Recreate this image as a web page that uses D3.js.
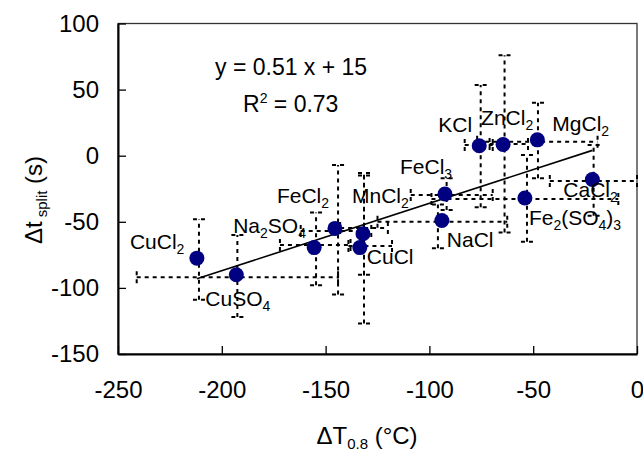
<!DOCTYPE html>
<html lang="en">
<head>
<meta charset="UTF-8">
<title>dt split vs dT0.8</title>
<script src="https://cdn.jsdelivr.net/npm/d3@7"></script>
<style>
    body { margin: 0; background: #fff; }
    text { font-family: "Liberation Sans", Arial, sans-serif; fill: #000; }
    .err { fill: none; stroke: #000; stroke-width: 2; stroke-dasharray: 4,4; }
</style>
</head>
<body>
<div id="chart"></div>
<script>
// data
const names = ['CuCl2', 'CuSO4', 'Na2SO4', 'FeCl2', 'MnCl2', 'CuCl', 'FeCl3', 'NaCl', 'KCl', 'ZnCl2', 'MgCl2', 'Fe2(SO4)3', 'CaCl2']
const dT = [-212, -193, -155.5, -145.5, -132, -133.5, -92.5, -94, -76, -64.5, -48, -54, -21.5]
const dt = [-77.5, -90, -69.5, -55, -59, -69.5, -29, -49, 7.5, 8.5, 12, -32, -18]

// error bars (vertical: at x, from lo to hi; horizontal: at y, from lo to hi; null = none shown)
const vBarX = [-211, -192.5, -154.6, -144, -131.5, -131.5, -91.7, -95.9, -75.3, -63.8, -47.7, -53, -20.9]
const vBarLo = [-109, -122, -98, -105, -90, -127, -41, -70, -39, -58, -17, -65, -45.5]
const vBarHi = [-48, -60, -43, -7, -13, -15, -17, -37, 53.5, 76, 40, 0.5, 8]
const hBarY = [null, -92, -67.5, -57, -54.7, -68.3, -29.7, -49.9, 8.1, 8.9, 10.6, -32.8, -19.1]
const hBarLo = [null, -241, -172, -162, -143, -139, -109, -125, -83, -71, -77, -99, -42]
const hBarHi = [null, -144, -138, -128, -120, -118, -69.5, -62.5, -69.5, -52.5, -19, -9, 0]

const xTicks = [-250, -200, -150, -100, -50, 0]
const yTicks = [-150, -100, -50, 0, 50, 100]
const fitSlope = 0.51, fitIntercept = 15

// label offsets from the point, pixels
const labelOffset = [[-67, -9], [-31, 31], [-81, -15], [-58, -25], [-11, -31], [7, 16], [-45, -20], [5, 27], [-41, -14], [-22, -19], [15, -9], [4, 27], [-29, 18]]

const width = 643, height = 454
const margin = { left: 118, top: 23.5, right: 6, bottom: 100 }

const svg = d3.select('#chart').append('svg').attr('width', width).attr('height', height)

const x = d3.scaleLinear().domain([-250, 0]).range([margin.left, width - margin.right])
const y = d3.scaleLinear().domain([-150, 100]).range([height - margin.bottom, margin.top])

// frame
svg.append('rect')
    .attr('x', x(-250)).attr('y', y(100))
    .attr('width', x(0) - x(-250)).attr('height', y(-150) - y(100))
    .attr('fill', 'none').attr('stroke', '#333').attr('stroke-width', 1.3)

const fmt = d => String(d)   // plain hyphen like the original
svg.append('g').attr('transform', `translate(0,${y(-150)})`)
    .call(d3.axisBottom(x).tickValues(xTicks).tickFormat(fmt).tickSizeInner(-8).tickSizeOuter(0).tickPadding(27))
svg.append('g').attr('transform', `translate(${x(-250)},0)`)
    .call(d3.axisLeft(y).tickValues(yTicks).tickFormat(fmt).tickSizeInner(-8).tickSizeOuter(0).tickPadding(19))
svg.selectAll('.tick text').attr('font-size', 24).attr('font-family', '"Liberation Sans", Arial, sans-serif')
svg.selectAll('.domain').attr('stroke', '#000').attr('stroke-width', 2)
svg.selectAll('.tick line').attr('stroke', '#000').attr('stroke-width', 1.3)

// error bars
const cap = 6
const eb = svg.append('g')
d3.range(names.length).forEach(i => {
    const vx = x(vBarX[i]), y1 = y(vBarLo[i]), y2 = y(vBarHi[i])
    eb.append('line').attr('class', 'err').attr('x1', vx).attr('x2', vx).attr('y1', y1).attr('y2', y2)
    eb.append('line').attr('class', 'err').attr('x1', vx - cap).attr('x2', vx + cap).attr('y1', y1).attr('y2', y1)
    eb.append('line').attr('class', 'err').attr('x1', vx - cap).attr('x2', vx + cap).attr('y1', y2).attr('y2', y2)

    if (hBarY[i] === null) return
    const hy = y(hBarY[i]), x1 = x(hBarLo[i]), x2 = x(hBarHi[i])
    eb.append('line').attr('class', 'err').attr('x1', x1).attr('x2', x2).attr('y1', hy).attr('y2', hy)
    eb.append('line').attr('class', 'err').attr('x1', x1).attr('x2', x1).attr('y1', hy - cap).attr('y2', hy + cap)
    eb.append('line').attr('class', 'err').attr('x1', x2).attr('x2', x2).attr('y1', hy - cap).attr('y2', hy + cap)
})

// fit line over the data range
const fitX = d3.extent(dT)
svg.append('path')
    .attr('d', d3.line().x(d => x(d)).y(d => y(fitSlope * d + fitIntercept))(fitX))
    .attr('stroke', '#000').attr('stroke-width', 1.6).attr('fill', 'none')

// points
svg.append('g').selectAll('circle').data(dT).join('circle')
    .attr('cx', d => x(d)).attr('cy', (d, i) => y(dt[i])).attr('r', 7.5)
    .attr('fill', '#000080')

// labels, digits as subscripts
function addChem(sel, str, big, small, shift) {
    const parts = str.match(/\d+|\D+/g)
    let down = false
    parts.forEach(p => {
        const sub = /\d/.test(p)
        const t = sel.append('tspan').text(p).attr('font-size', sub ? small : big)
        if (sub && !down) { t.attr('dy', shift); down = true }
        else if (!sub && down) { t.attr('dy', -shift); down = false }
    })
}
d3.range(names.length).forEach(i => {
    const t = svg.append('text')
        .attr('x', x(dT[i]) + labelOffset[i][0])
        .attr('y', y(dt[i]) + labelOffset[i][1])
    addChem(t, names[i], 21, 14, 5)
})

// regression text
svg.append('text').attr('x', 215).attr('y', 75).attr('font-size', 23).text('y = 0.51 x + 15')
const r2 = svg.append('text').attr('x', 243).attr('y', 112).attr('font-size', 23)
r2.append('tspan').text('R')
r2.append('tspan').text('2').attr('font-size', 14).attr('dy', -9)
r2.append('tspan').text(' = 0.73').attr('dy', 9)

// axis titles
const xt = svg.append('text').attr('x', 367).attr('y', 444).attr('text-anchor', 'middle').attr('font-size', 24)
xt.append('tspan').text('ΔT')
xt.append('tspan').text('0.8').attr('font-size', 15).attr('dy', 5)
xt.append('tspan').text(' (°C)').attr('dy', -5)

const yt = svg.append('text').attr('transform', 'translate(42,200) rotate(-90)').attr('text-anchor', 'middle').attr('font-size', 24)
yt.append('tspan').text('Δt')
yt.append('tspan').text(' split').attr('font-size', 15).attr('dy', 5)
yt.append('tspan').text(' (s)').attr('dy', -5)
</script>
</body>
</html>
